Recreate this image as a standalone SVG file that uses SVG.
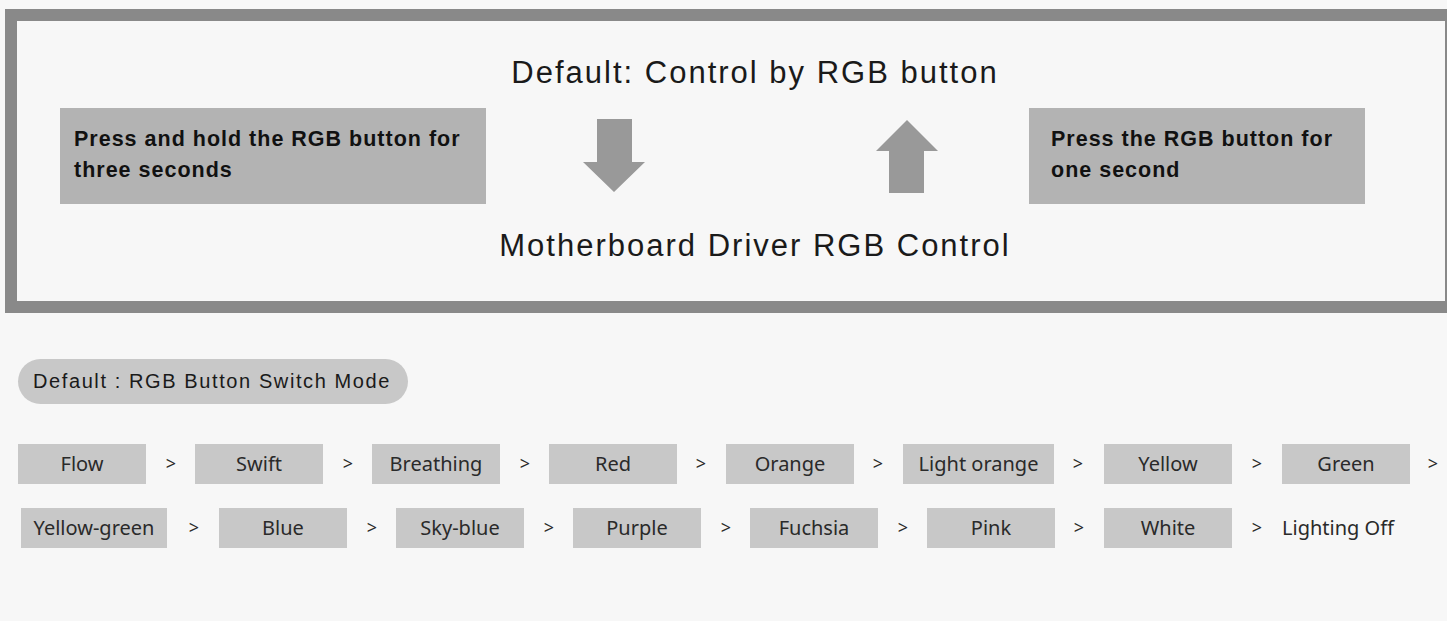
<svg xmlns="http://www.w3.org/2000/svg" width="1447" height="621" viewBox="0 0 1447 621">
<style>
.frame{fill:none;stroke:#898989;stroke-width:12}
.tbox{fill:#b3b3b3}
.tb{font-family:"Liberation Sans",Arial,sans-serif;font-weight:bold;font-size:21.5px;letter-spacing:1px;fill:#111}
.big{font-family:"Liberation Sans",Arial,sans-serif;font-size:31px;letter-spacing:2px;fill:#1a1a1a;text-anchor:middle}
.arrow{fill:#999}
.pill{fill:#c8c8c8}
.pt{font-family:"Liberation Sans",Arial,sans-serif;font-size:20px;letter-spacing:1.6px;fill:#1a1a1a}
.mb{fill:#c8c8c8}
.mt{font-family:"Noto Sans","Open Sans",sans-serif;font-size:20px;fill:#2a2a2a;text-anchor:middle}
.gt{font-family:"Noto Sans","Open Sans",sans-serif;font-size:18px;fill:#2a2a2a;text-anchor:middle}
.lt{font-family:"Noto Sans","Open Sans",sans-serif;font-size:20px;fill:#2a2a2a}
</style>
<rect width="1447" height="621" fill="#f7f7f7"/>
<g id="frame"><rect class="frame" x="11" y="15" width="1440" height="292"/></g>
<g id="title-default"><text class="big" x="755" y="83">Default: Control by RGB button</text></g>
<g id="title-driver"><text class="big" x="755" y="256">Motherboard Driver RGB Control</text></g>
<g id="box-hold"><rect class="tbox" x="60" y="108" width="426" height="96"/>
<text class="tb" x="74" y="146">Press and hold the RGB button for</text>
<text class="tb" x="74" y="177">three seconds</text></g>
<g id="box-press"><rect class="tbox" x="1029" y="108" width="336" height="96"/>
<text class="tb" x="1051" y="146">Press the RGB button for</text>
<text class="tb" x="1051" y="177">one second</text></g>
<g id="connectors">
<polygon class="arrow" points="597,119 632,119 632,162 645,162 614,192 583,162 597,162"/>
<polygon class="arrow" points="907,120 938,151 924,151 924,193 889,193 889,151 876,151"/>
</g>
<g id="pill"><rect class="pill" x="18" y="359" width="390" height="45" rx="22.5"/>
<text class="pt" x="33" y="388">Default : RGB Button Switch Mode</text></g>
<g id="row1">
<g id="m-flow"><rect class="mb" x="18" y="444" width="128" height="40"/><text class="mt" x="82" y="471">Flow</text></g>
<g id="m-swift"><rect class="mb" x="195" y="444" width="128" height="40"/><text class="mt" x="259" y="471">Swift</text></g>
<g id="m-breathing"><rect class="mb" x="372" y="444" width="128" height="40"/><text class="mt" x="436" y="471">Breathing</text></g>
<g id="m-red"><rect class="mb" x="549" y="444" width="128" height="40"/><text class="mt" x="613" y="471">Red</text></g>
<g id="m-orange"><rect class="mb" x="726" y="444" width="128" height="40"/><text class="mt" x="790" y="471">Orange</text></g>
<g id="m-lightorange"><rect class="mb" x="903" y="444" width="151" height="40"/><text class="mt" x="978.5" y="471">Light orange</text></g>
<g id="m-yellow"><rect class="mb" x="1104" y="444" width="128" height="40"/><text class="mt" x="1168" y="471">Yellow</text></g>
<g id="m-green"><rect class="mb" x="1282" y="444" width="128" height="40"/><text class="mt" x="1346" y="471">Green</text></g>
</g>
<g id="row2">
<g id="m-yellowgreen"><rect class="mb" x="21" y="508" width="146" height="40"/><text class="mt" x="94" y="535">Yellow-green</text></g>
<g id="m-blue"><rect class="mb" x="219" y="508" width="128" height="40"/><text class="mt" x="283" y="535">Blue</text></g>
<g id="m-skyblue"><rect class="mb" x="396" y="508" width="128" height="40"/><text class="mt" x="460" y="535">Sky-blue</text></g>
<g id="m-purple"><rect class="mb" x="573" y="508" width="128" height="40"/><text class="mt" x="637" y="535">Purple</text></g>
<g id="m-fuchsia"><rect class="mb" x="750" y="508" width="128" height="40"/><text class="mt" x="814" y="535">Fuchsia</text></g>
<g id="m-pink"><rect class="mb" x="927" y="508" width="128" height="40"/><text class="mt" x="991" y="535">Pink</text></g>
<g id="m-white"><rect class="mb" x="1104" y="508" width="128" height="40"/><text class="mt" x="1168" y="535">White</text></g>
<g id="m-off"><text class="lt" x="1282" y="535">Lighting Off</text></g>
</g>
<g id="separators">
<text class="gt" x="171" y="470">&gt;</text>
<text class="gt" x="348" y="470">&gt;</text>
<text class="gt" x="525" y="470">&gt;</text>
<text class="gt" x="701" y="470">&gt;</text>
<text class="gt" x="878" y="470">&gt;</text>
<text class="gt" x="1078" y="470">&gt;</text>
<text class="gt" x="1257" y="470">&gt;</text>
<text class="gt" x="1433" y="470">&gt;</text>
<text class="gt" x="194" y="534">&gt;</text>
<text class="gt" x="372" y="534">&gt;</text>
<text class="gt" x="549" y="534">&gt;</text>
<text class="gt" x="726" y="534">&gt;</text>
<text class="gt" x="903" y="534">&gt;</text>
<text class="gt" x="1079" y="534">&gt;</text>
<text class="gt" x="1257" y="534">&gt;</text>
</g>
</svg>
